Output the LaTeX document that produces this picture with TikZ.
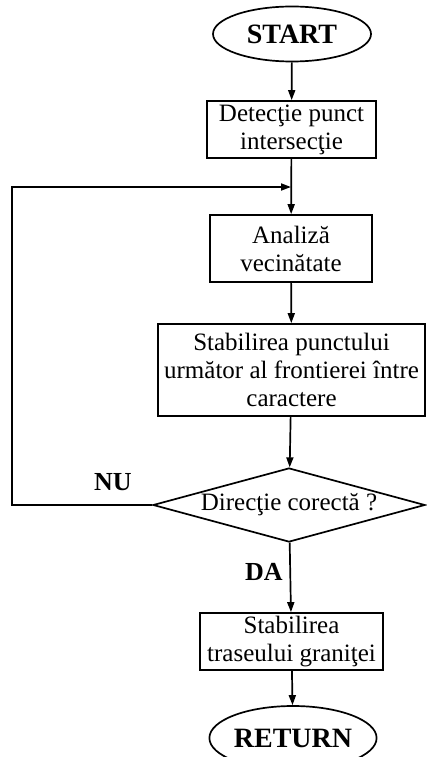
\documentclass[tikz,border=0pt]{standalone}
\usepackage{fontspec}
\setmainfont{Liberation Serif}
\usetikzlibrary{shapes.geometric,arrows.meta}
\begin{document}
\begin{tikzpicture}[x=1pt,y=-1pt,
  line width=1.7pt,
  txt/.style={font=\fontsize{25}{28}\selectfont, align=center, inner sep=0pt},
  proc/.style={txt, draw, rectangle},
  term/.style={draw, ellipse, inner sep=0pt, font=\fontsize{28}{30}\selectfont\bfseries},
  cond/.style={txt, draw, diamond, aspect=3.68},
  lbl/.style={font=\fontsize{26}{28}\selectfont\bfseries, inner sep=0pt},
  arr/.style={-{Triangle[length=10pt,width=7pt]}}]
\useasboundingbox (0,0) rectangle (426,757);

% flowchart blocks
\node[term, minimum width=158pt, minimum height=55pt] (start) at (292,34) {START};
\node[proc, minimum width=169pt, minimum height=57pt] (b1) at (291.5,129.5) {Detecţie punct\\intersecţie};
\node[proc, minimum width=162pt, minimum height=67pt] (b2) at (291,248.5) {Analiză\\vecinătate};
\node[proc, minimum width=267pt, minimum height=92pt] (b3) at (291.5,370) {Stabilirea punctului\\următor al frontierei între\\caractere};
\node[cond, minimum width=272pt, minimum height=74pt] (dec) at (289,505) {Direcţie corectă ?};
\node[proc, minimum width=183pt, minimum height=57pt] (b5) at (291.5,641.5) {Stabilirea\\traseului graniţei};
\node[term, minimum width=156pt, minimum height=64pt] (ret) at (293,738) {RETURN};

% branch labels
\node[lbl] (nu) at (113,482) {NU};
\node[lbl] (da) at (264,572) {DA};

% loop-back path points
\coordinate (join) at (291,187);
\coordinate (corner) at (12,505);

% connectors
\draw[arr] (start) -- (b1);
\draw[arr] (b1) -- (b2);
\draw[arr] (b2) -- (b3);
\draw[arr] (b3) -- (dec);
\draw[arr] (dec) -- (b5);
\draw[arr] (b5) -- (ret);
\draw[arr] (dec.west) -- (corner) |- (join);
\end{tikzpicture}
\end{document}
